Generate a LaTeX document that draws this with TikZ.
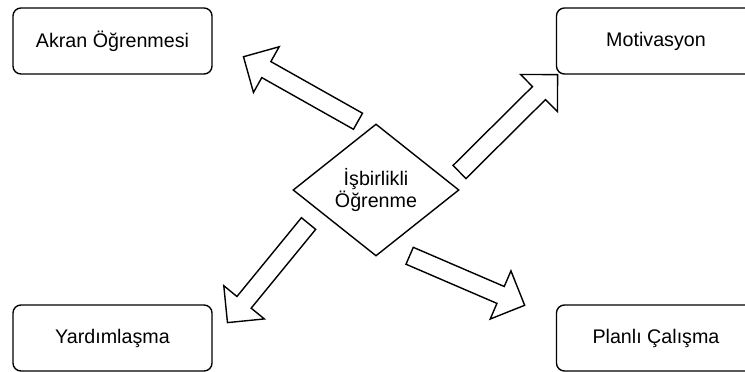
\documentclass[tikz,border=0pt]{standalone}
\usepackage{fontspec}
\setmainfont{Liberation Sans}
\usepackage{tikz}
\usetikzlibrary{shapes.geometric, shapes.arrows, positioning}

\begin{document}
\begin{tikzpicture}[
    x=0.025cm, y=-0.025cm,
    topic/.style={draw, line width=1pt, fill=white, rounded corners=0.2cm, minimum width=4.975cm, minimum height=1.65cm, font=\fontsize{14}{16}\selectfont},
    core/.style={draw, line width=1pt, diamond, aspect=1.26, minimum width=4.15cm, minimum height=3.3cm, inner sep=0pt, align=center, font=\fontsize{14}{15.6}\selectfont},
    bigarrow/.style={draw, line width=1pt, fill=white, single arrow, single arrow head extend=0.425cm, inner xsep=0pt, inner ysep=0.2125cm, anchor=tail}
]
    \clip (0,0) rectangle (745,372);

    % Center
    \node[core] (isbirlikli) at (376,190) {İşbirlikli\\Öğrenme};

    % Outcomes
    \node[topic] (akran) at (112.5,41) {Akran Öğrenmesi};
    \node[topic] (motivasyon) at (656,41) {Motivasyon};
    \node[topic] (yardim) at (112.5,338) {Yardımlaşma};
    \node[topic] (planli) at (656,338) {Planlı Çalışma};

    % Block arrows
    \node[bigarrow, rotate=150.6, minimum height=3.285cm] (toakran) at (358.6,121.6) {};
    \node[bigarrow, rotate=44.8, minimum height=3.455cm] (tomotivasyon) at (459,172.5) {};
    \node[bigarrow, rotate=230.7, minimum height=3.2cm] (toyardim) at (309,223) {};
    \node[bigarrow, rotate=-23.3, minimum height=3.13cm] (toplanli) at (409,255.5) {};
\end{tikzpicture}
\end{document}
